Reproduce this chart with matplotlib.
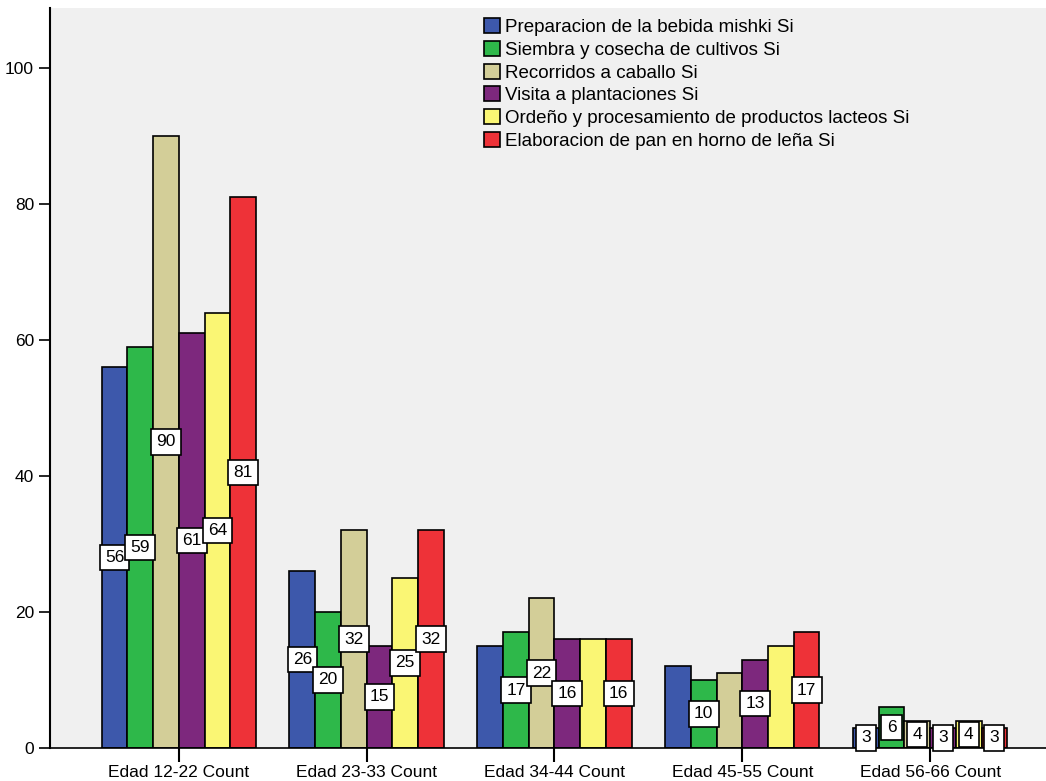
import matplotlib.pyplot as plt
import numpy as np

plt.rcParams['font.family'] = ['Liberation Sans', 'DejaVu Sans']

groups = ['Edad 12-22 Count', 'Edad 23-33 Count', 'Edad 34-44 Count',
          'Edad 45-55 Count', 'Edad 56-66 Count']
series = ['Preparacion de la bebida mishki Si',
          'Siembra y cosecha de cultivos Si',
          'Recorridos a caballo Si',
          'Visita a plantaciones Si',
          'Ordeño y procesamiento de productos lacteos Si',
          'Elaboracion de pan en horno de leña Si']
mishki = [56, 26, 15, 12, 3]
siembra = [59, 20, 17, 10, 6]
caballo = [90, 32, 22, 11, 4]
plantaciones = [61, 15, 16, 13, 3]
ordeno = [64, 25, 16, 15, 4]
pan = [81, 32, 16, 17, 3]
# which value labels are shown (SPSS hides the overlapping ones)
shown_mishki = [1, 1, 0, 0, 1]
shown_siembra = [1, 1, 1, 1, 1]
shown_caballo = [1, 1, 1, 0, 1]
shown_plantaciones = [1, 1, 1, 1, 1]
shown_ordeno = [1, 1, 0, 0, 1]
shown_pan = [1, 1, 1, 1, 1]

colors = ['#3D58AB', '#2EB84A', '#D3CE98', '#7D287D', '#FAF674', '#EE3238']
values = [mishki, siembra, caballo, plantaciones, ordeno, pan]
shown = [shown_mishki, shown_siembra, shown_caballo, shown_plantaciones, shown_ordeno, shown_pan]

fig = plt.figure(figsize=(10.46, 7.81), dpi=100)
ax = fig.add_axes([50/1046, 33/781, 996/1046, 740/781])
ax.set_facecolor('#F0F0F0')

x = np.arange(len(groups))
w = 0.137
for i in range(6):
    pos = x + (i - 2.5) * w
    ax.bar(pos, values[i], width=w, color=colors[i], edgecolor='black',
           linewidth=1.2, label=series[i], zorder=2)
for i in range(6):
    pos = x + (i - 2.5) * w
    for j in range(len(groups)):
        if shown[i][j]:
            ax.text(pos[j], values[i][j] / 2, str(values[i][j]), ha='center', va='center',
                    fontsize=12.5, zorder=3,
                    bbox=dict(boxstyle='square,pad=0.3', fc='white', ec='black', lw=1.2))

ax.set_xlim(-0.686, 4.617)
ax.set_ylim(0, 108.8)
ax.set_yticks([0, 20, 40, 60, 80, 100])
ax.set_xticks(x)
ax.set_xticklabels(groups, fontsize=12.5)
ax.tick_params(axis='y', labelsize=12.5, length=8, width=1.2, direction='out')
ax.tick_params(axis='x', length=10, width=1.5, direction='out', pad=2)
for s in ['top', 'right']:
    ax.spines[s].set_visible(False)
ax.spines['left'].set_linewidth(1.5)
ax.spines['bottom'].set_linewidth(1.2)

leg = ax.legend(loc='upper left', bbox_to_anchor=(0.428, 0.996), frameon=False,
                fontsize=13.5, handlelength=0.85, handleheight=0.85, handletextpad=0.3,
                labelspacing=0.25, borderaxespad=0)

fig.savefig('out.png', dpi=100)
